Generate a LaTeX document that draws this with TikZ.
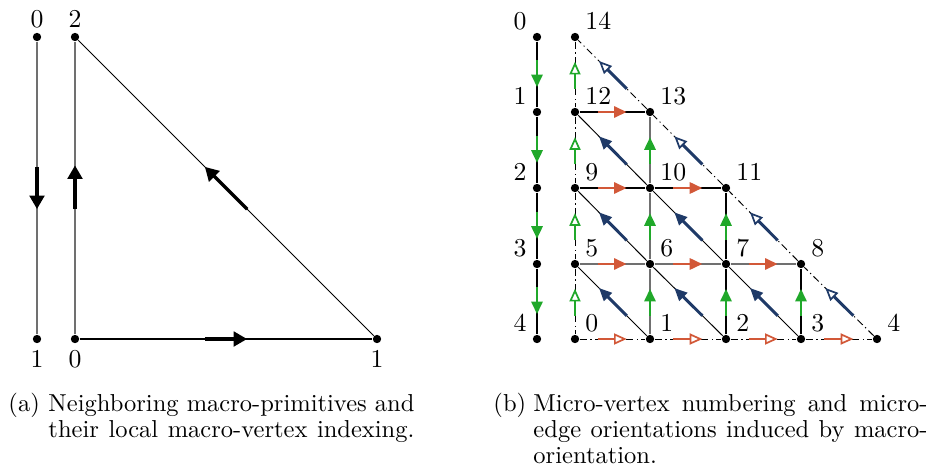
\documentclass[tikz,border=0pt]{standalone}
\usetikzlibrary{arrows.meta,calc}
\definecolor{ared}{RGB}{210,88,56}
\definecolor{agreen}{RGB}{32,168,42}
\definecolor{ablue}{RGB}{31,58,104}
\definecolor{lgray}{RGB}{112,112,112}
\tikzset{
 vdot/.style={circle,fill=black,inner sep=0pt,minimum size=3.4pt},
 lbl/.style={inner sep=0pt,font=\fontsize{10.5}{12}\selectfont},
 captext/.style={inner sep=0pt,font=\fontsize{10}{12}\selectfont},
 thinline/.style={line width=0.4pt},
 blackline/.style={line width=0.5pt},
 grayline/.style={line width=0.6pt,lgray},
 dd/.style={line width=0.4pt,dash pattern=on 3pt off 1.4pt on 0.5pt off 1.4pt},
 bigarr/.style={line width=1.4pt,-{Triangle[length=5.5pt,width=5.9pt]}},
 farr/.style={line width=1.2pt,-{Triangle[length=5.2pt,width=4.5pt]}},
 oarr/.style={line width=1.2pt,-{Triangle[open,fill=white,length=5.2pt,width=4.5pt,line width=0.7pt]}},
}
\newcommand{\marrow}[5]{\draw[#1] ($(#2)!#4!(#3)$) -- ($(#2)!#5!(#3)$);}
\begin{document}
\begin{tikzpicture}[x=0.408pt,y=-0.408pt]
\useasboundingbox (0,0) rectangle (933,472);
% ---------- (a) ----------
\node[vdot] (L0) at (37,37) {};
\node[vdot] (L1) at (37,339) {};
\node[vdot] (A2) at (75,37) {};
\node[vdot] (A0) at (75,339) {};
\node[vdot] (A1) at (377,339) {};
\draw[grayline] (L0) -- (L1);
\draw[grayline] (A0) -- (A2);
\draw[blackline] (A0) -- (A1);
\draw[thinline] (A1) -- (A2);
\marrow{bigarr}{L0}{L1}{0.43}{0.57}
\marrow{bigarr}{A0}{A2}{0.43}{0.575}
\marrow{bigarr}{A0}{A1}{0.43}{0.57}
\marrow{bigarr}{A1}{A2}{0.43}{0.57}
\node[lbl,anchor=base] (tL0) at ($(L0)+(0,-10)$) {0};
\node[lbl,anchor=base] (tA2) at ($(A2)+(0,-10)$) {2};
\node[lbl,anchor=base] (tL1) at ($(L1)+(0,28)$) {1};
\node[lbl,anchor=base] (tA0) at ($(A0)+(0,28)$) {0};
\node[lbl,anchor=base] (tA1) at ($(A1)+(0,28)$) {1};
% ---------- (b) ----------
\foreach \i/\y in {0/37,1/112,2/188,3/264,4/339}{
  \node[vdot] (R\i) at (537,\y) {};
  \node[lbl,anchor=base east] (tR\i) at ($(R\i)+(-10,-8)$) {\i};
}
\foreach \i/\x/\y in {0/575/339,1/650/339,2/726/339,3/801/339,4/877/339,
  5/575/264,6/650/264,7/726/264,8/801/264,
  9/575/188,10/650/188,11/726/188,
  12/575/112,13/650/112,14/575/37}{
  \node[vdot] (v\i) at (\x,\y) {};
  \node[lbl,anchor=base west] (tv\i) at ($(v\i)+(10,-8)$) {\i};
}
% left column
\draw[blackline] (R0) -- (R1);
\draw[blackline] (R1) -- (R2);
\draw[blackline] (R2) -- (R3);
\draw[blackline] (R3) -- (R4);
% boundary
\draw[dd] (v0) -- (v1) -- (v2) -- (v3) -- (v4);
\draw[dd] (v4) -- (v8) -- (v11) -- (v13) -- (v14);
\draw[dd] (v14) -- (v12) -- (v9) -- (v5) -- (v0);
% interior horizontals
\draw[grayline] (v5) -- (v6);
\draw[grayline] (v6) -- (v7);
\draw[grayline] (v7) -- (v8);
\draw[blackline] (v9) -- (v10);
\draw[blackline] (v10) -- (v11);
\draw[blackline] (v12) -- (v13);
% interior verticals
\draw[grayline] (v1) -- (v6);
\draw[grayline] (v6) -- (v10);
\draw[grayline] (v10) -- (v13);
\draw[blackline] (v2) -- (v7);
\draw[blackline] (v7) -- (v11);
\draw[blackline] (v3) -- (v8);
% interior diagonals
\draw[thinline] (v12) -- (v10);
\draw[thinline] (v10) -- (v7);
\draw[thinline] (v7) -- (v3);
\draw[thinline] (v9) -- (v6);
\draw[thinline] (v6) -- (v2);
\draw[thinline] (v5) -- (v1);
% green down arrows, left column
\marrow{farr,agreen}{R0}{R1}{0.31}{0.67}
\marrow{farr,agreen}{R1}{R2}{0.31}{0.67}
\marrow{farr,agreen}{R2}{R3}{0.31}{0.67}
\marrow{farr,agreen}{R3}{R4}{0.31}{0.67}
% red arrows
\marrow{farr,ared}{v5}{v6}{0.3}{0.69}
\marrow{farr,ared}{v6}{v7}{0.3}{0.69}
\marrow{farr,ared}{v7}{v8}{0.3}{0.69}
\marrow{farr,ared}{v9}{v10}{0.3}{0.69}
\marrow{farr,ared}{v10}{v11}{0.3}{0.69}
\marrow{farr,ared}{v12}{v13}{0.3}{0.69}
\marrow{oarr,ared}{v0}{v1}{0.3}{0.69}
\marrow{oarr,ared}{v1}{v2}{0.3}{0.69}
\marrow{oarr,ared}{v2}{v3}{0.3}{0.69}
\marrow{oarr,ared}{v3}{v4}{0.3}{0.69}
% green up arrows
\marrow{farr,agreen}{v1}{v6}{0.31}{0.67}
\marrow{farr,agreen}{v6}{v10}{0.31}{0.67}
\marrow{farr,agreen}{v10}{v13}{0.31}{0.67}
\marrow{farr,agreen}{v2}{v7}{0.31}{0.67}
\marrow{farr,agreen}{v7}{v11}{0.31}{0.67}
\marrow{farr,agreen}{v3}{v8}{0.31}{0.67}
\marrow{oarr,agreen}{v0}{v5}{0.31}{0.67}
\marrow{oarr,agreen}{v5}{v9}{0.31}{0.67}
\marrow{oarr,agreen}{v9}{v12}{0.31}{0.67}
\marrow{oarr,agreen}{v12}{v14}{0.31}{0.67}
% blue arrows
\marrow{farr,ablue}{v1}{v5}{0.31}{0.68}
\marrow{farr,ablue}{v2}{v6}{0.31}{0.68}
\marrow{farr,ablue}{v6}{v9}{0.31}{0.68}
\marrow{farr,ablue}{v3}{v7}{0.31}{0.68}
\marrow{farr,ablue}{v7}{v10}{0.31}{0.68}
\marrow{farr,ablue}{v10}{v12}{0.31}{0.68}
\marrow{oarr,ablue}{v4}{v8}{0.31}{0.68}
\marrow{oarr,ablue}{v8}{v11}{0.31}{0.68}
\marrow{oarr,ablue}{v11}{v13}{0.31}{0.68}
\marrow{oarr,ablue}{v13}{v14}{0.31}{0.68}
% ---------- captions ----------
\node[captext,anchor=base west] (capa) at (8,411) {(a)};
\node[captext,anchor=base west] (capa1) at (48,411) {\makebox[149.3pt][s]{Neighboring macro-primitives and}};
\node[captext,anchor=base west] (capa2) at (48,437) {\makebox[149.3pt][s]{their local macro-vertex indexing.}};
\node[captext,anchor=base west] (capb) at (493,411) {(b)};
\node[captext,anchor=base west] (capb1) at (533,411) {\makebox[160.8pt][s]{Micro-vertex numbering and micro-}};
\node[captext,anchor=base west] (capb2) at (533,437) {\makebox[160.8pt][s]{edge orientations induced by macro-}};
\node[captext,anchor=base west] (capb3) at (533,463) {orientation.};
\end{tikzpicture}
\end{document}
